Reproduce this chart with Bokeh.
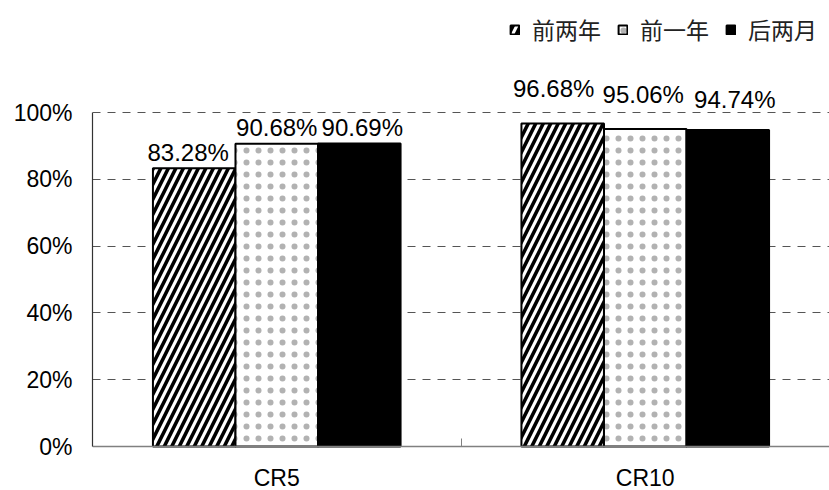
from bokeh.plotting import figure
from bokeh.models import (Range1d, FixedTicker, ColumnDataSource, Legend,
                          LegendItem, NumeralTickFormatter)
from bokeh.core.properties import value
from bokeh.embed import file_html
from bokeh.resources import INLINE

# ---- data ----
categories = ["CR5", "CR10"]
series_names = ["前两年", "前一年", "后两月"]
prev_two_years = [0.8328, 0.9668]
prev_year = [0.9068, 0.9506]
last_two_months = [0.9069, 0.9474]
y_ticks = [0.0, 0.2, 0.4, 0.6, 0.8, 1.0]

# ---- layout helpers ----
bar_w = 0.224
dodge = [-bar_w, 0.0, bar_w]
# pixel nudges for the value labels (per series, per category)
label_dx = [[-6, -9], [0, -2], [3, 7]]
label_dy = [[-16, -35], [-16, -34], [-16, -31]]

W, H = 829, 490
PX_PER_UNIT = 334.0
p = figure(width=W, height=H, output_backend="svg", toolbar_location=None,
           x_range=Range1d(0, 2),
           y_range=Range1d(-44 / PX_PER_UNIT, 446 / PX_PER_UNIT),
           min_border_left=92, min_border_right=0, min_border_top=0,
           min_border_bottom=0)
p.outline_line_color = None
p.background_fill_color = "white"
p.border_fill_color = "white"

styles = [
    dict(fill_color="white", hatch_pattern="/", hatch_color="black",
         hatch_scale=15, hatch_weight=3.6, line_color="black", line_width=2),
    dict(fill_color="white", hatch_pattern=".", hatch_color="black",
         hatch_alpha=0.3, hatch_scale=12, line_color="black", line_width=2),
    dict(fill_color="black", line_color="black", line_width=2),
]

all_series = [prev_two_years, prev_year, last_two_months]
renderers = []
for k, vals in enumerate(all_series):
    xs = [i + 0.5 + dodge[k] for i in range(len(categories))]
    src = ColumnDataSource(dict(
        x=xs, top=vals,
        label=["%.2f%%" % (v * 100) for v in vals],
        dx=label_dx[k], dy=label_dy[k],
    ))
    r = p.vbar(x="x", top="top", bottom=0, width=bar_w, source=src, **styles[k])
    renderers.append(r)
    p.text(x="x", y="top", text="label", x_offset="dx", y_offset="dy",
           source=src, text_align="center", text_baseline="alphabetic",
           text_font=value("Liberation Sans"), text_font_size="24px",
           text_color="black")

# ---- axes ----
yax = p.yaxis[0]
yax.ticker = FixedTicker(ticks=y_ticks)
yax.formatter = NumeralTickFormatter(format="0%")
yax.bounds = (0, 1)
yax.axis_line_color = "#333333"
yax.axis_line_width = 1.2
yax.major_tick_out = 0
yax.major_tick_in = 0
yax.minor_tick_line_color = None
yax.major_label_standoff = 20
yax.major_label_text_font = "Liberation Sans"
yax.major_label_text_font_size = "23px"
yax.major_label_text_color = "black"

xax = p.xaxis[0]
xax.fixed_location = 0
xax.ticker = FixedTicker(ticks=[0.5, 1.5], minor_ticks=[0, 1, 2])
xax.major_label_overrides = {0.5: categories[0], 1.5: categories[1]}
xax.major_tick_line_color = None
xax.minor_tick_in = 8
xax.minor_tick_out = 0
xax.minor_tick_line_color = "#808080"
xax.axis_line_color = "#808080"
xax.axis_line_width = 1.5
xax.major_label_standoff = 12
xax.major_label_text_font = "Liberation Sans"
xax.major_label_text_font_size = "23px"
xax.major_label_text_color = "black"

p.xgrid.grid_line_color = None
p.ygrid.ticker = FixedTicker(ticks=y_ticks[1:])
p.ygrid.bounds = (0, 1)
p.ygrid.grid_line_color = "#555555"
p.ygrid.grid_line_dash = "8 7"
p.ygrid.grid_line_width = 1

# ---- legend ----
legend = Legend(
    items=[LegendItem(label=n, renderers=[r]) for n, r in zip(series_names, renderers)],
    location="top_right", orientation="horizontal",
    border_line_color=None, background_fill_alpha=0,
    label_text_font="Noto Sans CJK SC", label_text_font_size="23px",
    label_text_color="#222222",
    glyph_width=11, glyph_height=11, label_standoff=12, spacing=16,
    padding=0, margin=12,
)
p.add_layout(legend)

open("out.html", "w").write(file_html(p, INLINE))
